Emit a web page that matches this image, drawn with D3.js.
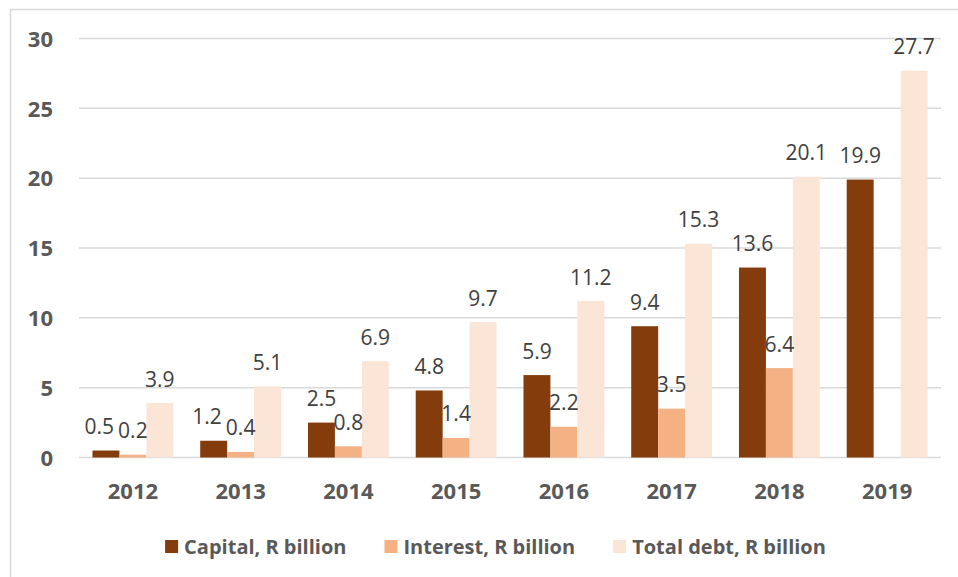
<!DOCTYPE html>
<html><head><meta charset="utf-8">
<script src="https://cdn.jsdelivr.net/npm/d3@7/dist/d3.min.js"></script>
<style>
html,body{margin:0;padding:0;background:#fff;}
svg{display:block;}
</style></head>
<body>
<svg id="chart" width="958" height="577"></svg>
<script>
const years = ["2012","2013","2014","2015","2016","2017","2018","2019"];
const capital = [0.5, 1.2, 2.5, 4.8, 5.9, 9.4, 13.6, 19.9];
const interest = [0.2, 0.4, 0.8, 1.4, 2.2, 3.5, 6.4, null];
const totalDebt = [3.9, 5.1, 6.9, 9.7, 11.2, 15.3, 20.1, 27.7];
const seriesNames = ["Capital, R billion", "Interest, R billion", "Total debt, R billion"];
const seriesColors = ["#843C0C", "#F4B183", "#FBE5D6"];
const yTicks = [0, 5, 10, 15, 20, 25, 30];

const seriesValues = [capital, interest, totalDebt];
const svg = d3.select("#chart");
const FONT = "'Open Sans', 'Noto Sans', sans-serif";

// outer frame (partial, as in the reference crop)
svg.append("path").attr("d", "M10.5,577 V9.5 H958").attr("fill", "none")
  .attr("stroke", "#d9d9d9").attr("stroke-width", 1.5);

const x0 = d3.scaleBand().domain(years).range([79, 941]).paddingInner(0.25).paddingOuter(0.125);
const x1 = d3.scaleBand().domain([0,1,2]).range([0, x0.bandwidth()]).padding(0);
const y = d3.scaleLinear().domain([0, 30]).range([457.5, 38.5]);

// gridlines
svg.append("g").selectAll("line").data(yTicks).join("line")
  .attr("x1", 79).attr("x2", 941)
  .attr("y1", d => y(d)).attr("y2", d => y(d))
  .attr("stroke", "#d9d9d9").attr("stroke-width", 1.5);

// y axis labels
const yAxis = d3.axisLeft(y).tickValues(yTicks).tickSize(0).tickPadding(0);
const gy = svg.append("g").attr("transform", "translate(53,0)").call(yAxis);
gy.select(".domain").remove();
gy.selectAll("text").attr("font-family", FONT).attr("font-size", 22).attr("font-weight", "bold")
  .attr("fill", "#595959").attr("dy", "0.35em");

// x axis labels
const xAxis = d3.axisBottom(x0).tickSize(0).tickPadding(0);
const gx = svg.append("g").attr("transform", "translate(0,491.5)").call(xAxis);
gx.select(".domain").remove();
gx.selectAll("text").attr("font-family", FONT).attr("font-size", 22).attr("font-weight", "bold")
  .attr("fill", "#595959").attr("dy", "0.35em");

// bars
const groups = svg.append("g").selectAll("g").data(years).join("g")
  .attr("transform", d => `translate(${x0(d)},0)`);
const barData = (yr, i) => seriesValues.map((vals, s) => ({s, v: vals[i], yr}));
groups.each(function(yr, i) {
  const g = d3.select(this);
  const data = barData(yr, i).filter(d => d.v != null);
  g.selectAll("rect").data(data).join("rect")
    .attr("x", d => x1(d.s)).attr("width", x1.bandwidth())
    .attr("y", d => y(d.v)).attr("height", d => y(0) - y(d.v))
    .attr("fill", d => seriesColors[d.s]);
  const labels = g.selectAll("text").data(data).join("text")
    .attr("x", d => x1(d.s) + x1.bandwidth()/2)
    .attr("y", d => y(d.v) - 16.5)
    .attr("text-anchor", "middle")
    .attr("font-family", FONT).attr("font-size", 21)
    .attr("fill", "#404040")
    .text(d => d.v.toFixed(1));
  // simple overlap avoidance between capital and interest labels
  const nodes = labels.nodes();
  const cap = data.find(d => d.s === 0), int = data.find(d => d.s === 1);
  if (cap && int) {
    const nc = nodes[data.indexOf(cap)], ni = nodes[data.indexOf(int)];
    const wc = nc.getComputedTextLength(), wi = ni.getComputedTextLength();
    const dist = x1(1) - x1(0);
    const vdiff = Math.abs(y(cap.v) - y(int.v));
    const need = wc/2 + wi/2 + 4;
    if (vdiff < 16 && dist < need) {
      d3.select(nc).attr("x", x1(0) + x1.bandwidth()/2 - (need - dist));
    }
  }
});

// legend
const legend = svg.append("g").attr("transform", "translate(0,547)");
const items = legend.selectAll("g").data(seriesNames).join("g");
items.append("rect").attr("x", 0).attr("y", -7).attr("width", 13).attr("height", 13)
  .attr("fill", (d, i) => seriesColors[i]);
items.append("text").attr("x", 19).attr("dy", "0.35em")
  .attr("font-family", FONT).attr("font-size", 20).attr("font-weight", "bold")
  .attr("fill", "#595959").text(d => d);
let cx = 0; const offs = [];
items.each(function() {
  offs.push(cx);
  const w = 19 + d3.select(this).select("text").node().getComputedTextLength();
  cx += w + 38;
});
const totalW = cx - 38;
const start = 495.5 - totalW/2;
items.attr("transform", (d, i) => `translate(${start + offs[i]},0)`);
</script>
</body></html>
